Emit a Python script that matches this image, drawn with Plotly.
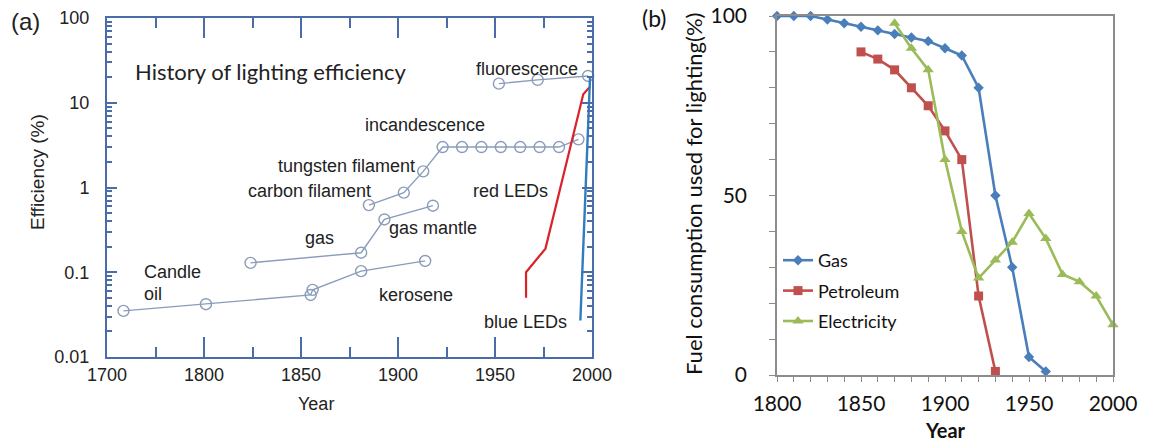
import plotly.graph_objects as go

W, H = 1149, 441

# ---------------- Panel (a): history of lighting efficiency ----------------
oil_kero_years = [1717, 1801, 1855, 1856, 1881, 1914]
oil_kero_eff = [0.035, 0.042, 0.054, 0.062, 0.103, 0.136]
gas_years = [1824, 1881, 1893, 1918]
gas_eff = [0.129, 0.17, 0.42, 0.61]
incand_years = [1885, 1903, 1913, 1923, 1933, 1943, 1953, 1963, 1973, 1983, 1993]
incand_eff = [0.62, 0.87, 1.55, 3.0, 3.0, 3.0, 3.0, 3.0, 3.0, 3.0, 3.7]
fluor_years = [1952, 1972, 1998]
fluor_eff = [16.8, 18.6, 20.7]
red_led_years = [1966, 1966, 1976, 1995.5, 1999]
red_led_eff = [0.05, 0.1, 0.19, 12.6, 15.5]
blue_led_years = [1994, 1999]
blue_led_eff = [0.027, 20]

a_tick_years = [1700, 1800, 1850, 1900, 1950, 2000]
a_minor_years = [1750, 1825, 1875, 1925, 1975]
a_ytick_vals = [0.01, 0.1, 1, 10, 100]
a_ytick_text = ["0.01", "0.1", "1", "10", "100"]

# ---------------- Panel (b): fuel consumption used for lighting ----------------
b_gas_years = [1800, 1810, 1820, 1830, 1840, 1850, 1860, 1870, 1880, 1890,
               1900, 1910, 1920, 1930, 1940, 1950, 1960]
b_gas = [100, 100, 100, 99, 98, 97, 96, 95, 94, 93, 91, 89, 80, 50, 30, 5, 1]
b_pet_years = [1850, 1860, 1870, 1880, 1890, 1900, 1910, 1920, 1930]
b_pet = [90, 88, 85, 80, 75, 68, 60, 22, 1]
b_ele_years = [1870, 1880, 1890, 1900, 1910, 1920, 1930, 1940, 1950, 1960,
               1970, 1980, 1990, 2000]
b_ele = [98, 91, 85, 60, 40, 27, 32, 37, 45, 38, 28, 26, 22, 14]


def tx(year):
    """Panel (a) x-scale: 1700-1800 is drawn at half scale."""
    return year if year >= 1800 else 1800 - (1800 - year) / 2


def px(x):
    return x / W


def py(y):
    return 1 - y / H


FRAME = "#4a6ca8"
SER = "#8a9cba"
GRAY = "#8c8c8c"
ARIAL = "Liberation Sans, Arial, sans-serif"
CAL = "Lato, Carlito, sans-serif"

fig = go.Figure()

circle = dict(symbol="circle-open", size=11, color=SER, line=dict(width=1.4, color=SER))
for yrs, vals in [(oil_kero_years, oil_kero_eff), (gas_years, gas_eff),
                  (incand_years, incand_eff), (fluor_years, fluor_eff)]:
    fig.add_trace(go.Scatter(x=[tx(v) for v in yrs], y=vals, mode="lines+markers",
                             line=dict(color=SER, width=1.4), marker=circle,
                             showlegend=False, cliponaxis=False, xaxis="x", yaxis="y"))
fig.add_trace(go.Scatter(x=[tx(v) for v in red_led_years], y=red_led_eff, mode="lines",
                         line=dict(color="#d8232a", width=2.2), showlegend=False,
                         xaxis="x", yaxis="y"))
fig.add_trace(go.Scatter(x=[tx(v) for v in blue_led_years], y=blue_led_eff, mode="lines",
                         line=dict(color="#2f7dbd", width=2.4), showlegend=False,
                         xaxis="x", yaxis="y"))

# Panel (b)
fig.add_trace(go.Scatter(x=b_gas_years, y=b_gas, name="Gas", mode="lines+markers",
                         line=dict(color="#4a7ebb", width=2.6),
                         marker=dict(symbol="diamond", size=8, color="#4a7ebb"),
                         legendgroup="g1", cliponaxis=False, xaxis="x2", yaxis="y2"))
fig.add_trace(go.Scatter(x=b_pet_years, y=b_pet, name="Petroleum", mode="lines+markers",
                         line=dict(color="#c0504d", width=2.6),
                         marker=dict(symbol="square", size=9, color="#c0504d"),
                         legendgroup="g2", cliponaxis=False, xaxis="x2", yaxis="y2"))
fig.add_trace(go.Scatter(x=b_ele_years, y=b_ele, name="Electricity", mode="lines+markers",
                         line=dict(color="#9bbb59", width=2.6),
                         marker=dict(symbol="triangle-up", size=10, color="#9bbb59"),
                         legendgroup="g3", cliponaxis=False, xaxis="x2", yaxis="y2"))

minor_log = [k * 10 ** e for e in range(-2, 2) for k in range(2, 10)]

fig.update_layout(
    width=W, height=H, margin=dict(l=0, r=0, t=0, b=0, pad=0, autoexpand=False),
    paper_bgcolor="white", plot_bgcolor="white",
    xaxis=dict(domain=[px(107), px(592)], range=[tx(1700), 2000], anchor="y",
               tickmode="array",
               tickvals=[tx(v) for v in a_tick_years], ticktext=[str(v) for v in a_tick_years],
               ticks="inside", ticklen=20, tickwidth=2, tickcolor=FRAME,
               minor=dict(tickmode="array", tickvals=[tx(v) for v in a_minor_years],
                          ticks="inside", ticklen=10, tickwidth=2, tickcolor=FRAME),
               showline=True, linecolor=FRAME, linewidth=2, mirror="ticks",
               showgrid=False, zeroline=False,
               tickfont=dict(family=ARIAL, size=18, color="#222")),
    yaxis=dict(domain=[py(357), py(18)], type="log", range=[-2, 2], anchor="x",
               tickmode="array",
               tickvals=a_ytick_vals, ticktext=a_ytick_text,
               ticks="inside", ticklen=10, tickwidth=2, tickcolor=FRAME,
               minor=dict(tickmode="array", tickvals=minor_log, ticks="inside", ticklen=5,
                          tickwidth=1.5, tickcolor=FRAME),
               showline=True, linecolor=FRAME, linewidth=2, mirror="ticks",
               showgrid=False, zeroline=False, ticklabelstandoff=12,
               tickfont=dict(family=ARIAL, size=18, color="#222")),
    xaxis2=dict(domain=[px(777), px(1113)], range=[1800, 2000], anchor="y2",
                tick0=1800, dtick=50, ticks="outside", ticklen=5, tickwidth=1,
                tickcolor=GRAY,
                minor=dict(dtick=10, ticks="outside", ticklen=5, tickcolor=GRAY, tickwidth=1),
                showline=True, linecolor=GRAY, linewidth=1.5, mirror=True,
                showgrid=False, zeroline=False, ticklabelstandoff=4,
                tickfont=dict(family=CAL, size=21, color="#111")),
    yaxis2=dict(domain=[py(375), py(16)], range=[0, 100], anchor="x2",
                tick0=0, dtick=50, ticks="outside", ticklen=6, tickwidth=1,
                tickcolor=GRAY,
                minor=dict(dtick=10, ticks="outside", ticklen=6, tickcolor=GRAY, tickwidth=1),
                showline=True, linecolor=GRAY, linewidth=1.5, mirror=True,
                showgrid=False, zeroline=False, ticklabelstandoff=18,
                tickfont=dict(family=CAL, size=21, color="#111")),
    legend=dict(x=px(778), y=py(242), xanchor="left", yanchor="top",
                bgcolor="rgba(0,0,0,0)", traceorder="grouped", tracegroupgap=4,
                font=dict(family=CAL, size=18, color="#111"), itemwidth=30),
)

ann = []


def add(text, x, y, size=18, family=ARIAL, xanchor="center", angle=0, bold=False, color="#222"):
    ann.append(dict(text=("<b>%s</b>" % text) if bold else text, x=px(x), y=py(y),
                    xref="paper", yref="paper", showarrow=False, xanchor=xanchor,
                    yanchor="middle", textangle=angle,
                    font=dict(family=family, size=size, color=color)))


add("(a)", 25, 22, size=24)
add("History of lighting efficiency", 133, 72, size=22, family=CAL, xanchor="left")
add("fluorescence", 527, 69)
add("incandescence", 425, 125)
add("tungsten filament", 346, 166)
add("carbon filament", 309, 191)
add("red LEDs", 510, 191)
add("gas", 319, 238)
add("gas mantle", 433, 228)
add("Candle", 142, 272, xanchor="left")
add("oil", 142, 294, xanchor="left")
add("kerosene", 416, 295)
add("blue LEDs", 525, 322)
add("Efficiency (%)", 37, 172, size=19, angle=-90)
add("Year", 316, 404, size=18)

add("(b)", 654, 18, size=23, family=CAL, color="#111")
add("Fuel consumption used for lighting(%)", 693, 194, size=22, family=CAL, angle=-90, color="#111")
add("Year", 945, 430, size=20, family=CAL, bold=True, color="#111")

fig.update_layout(annotations=ann)
fig.write_html("out.html", config={"displayModeBar": False},
               post_script="document.body.style.margin='0px';")
